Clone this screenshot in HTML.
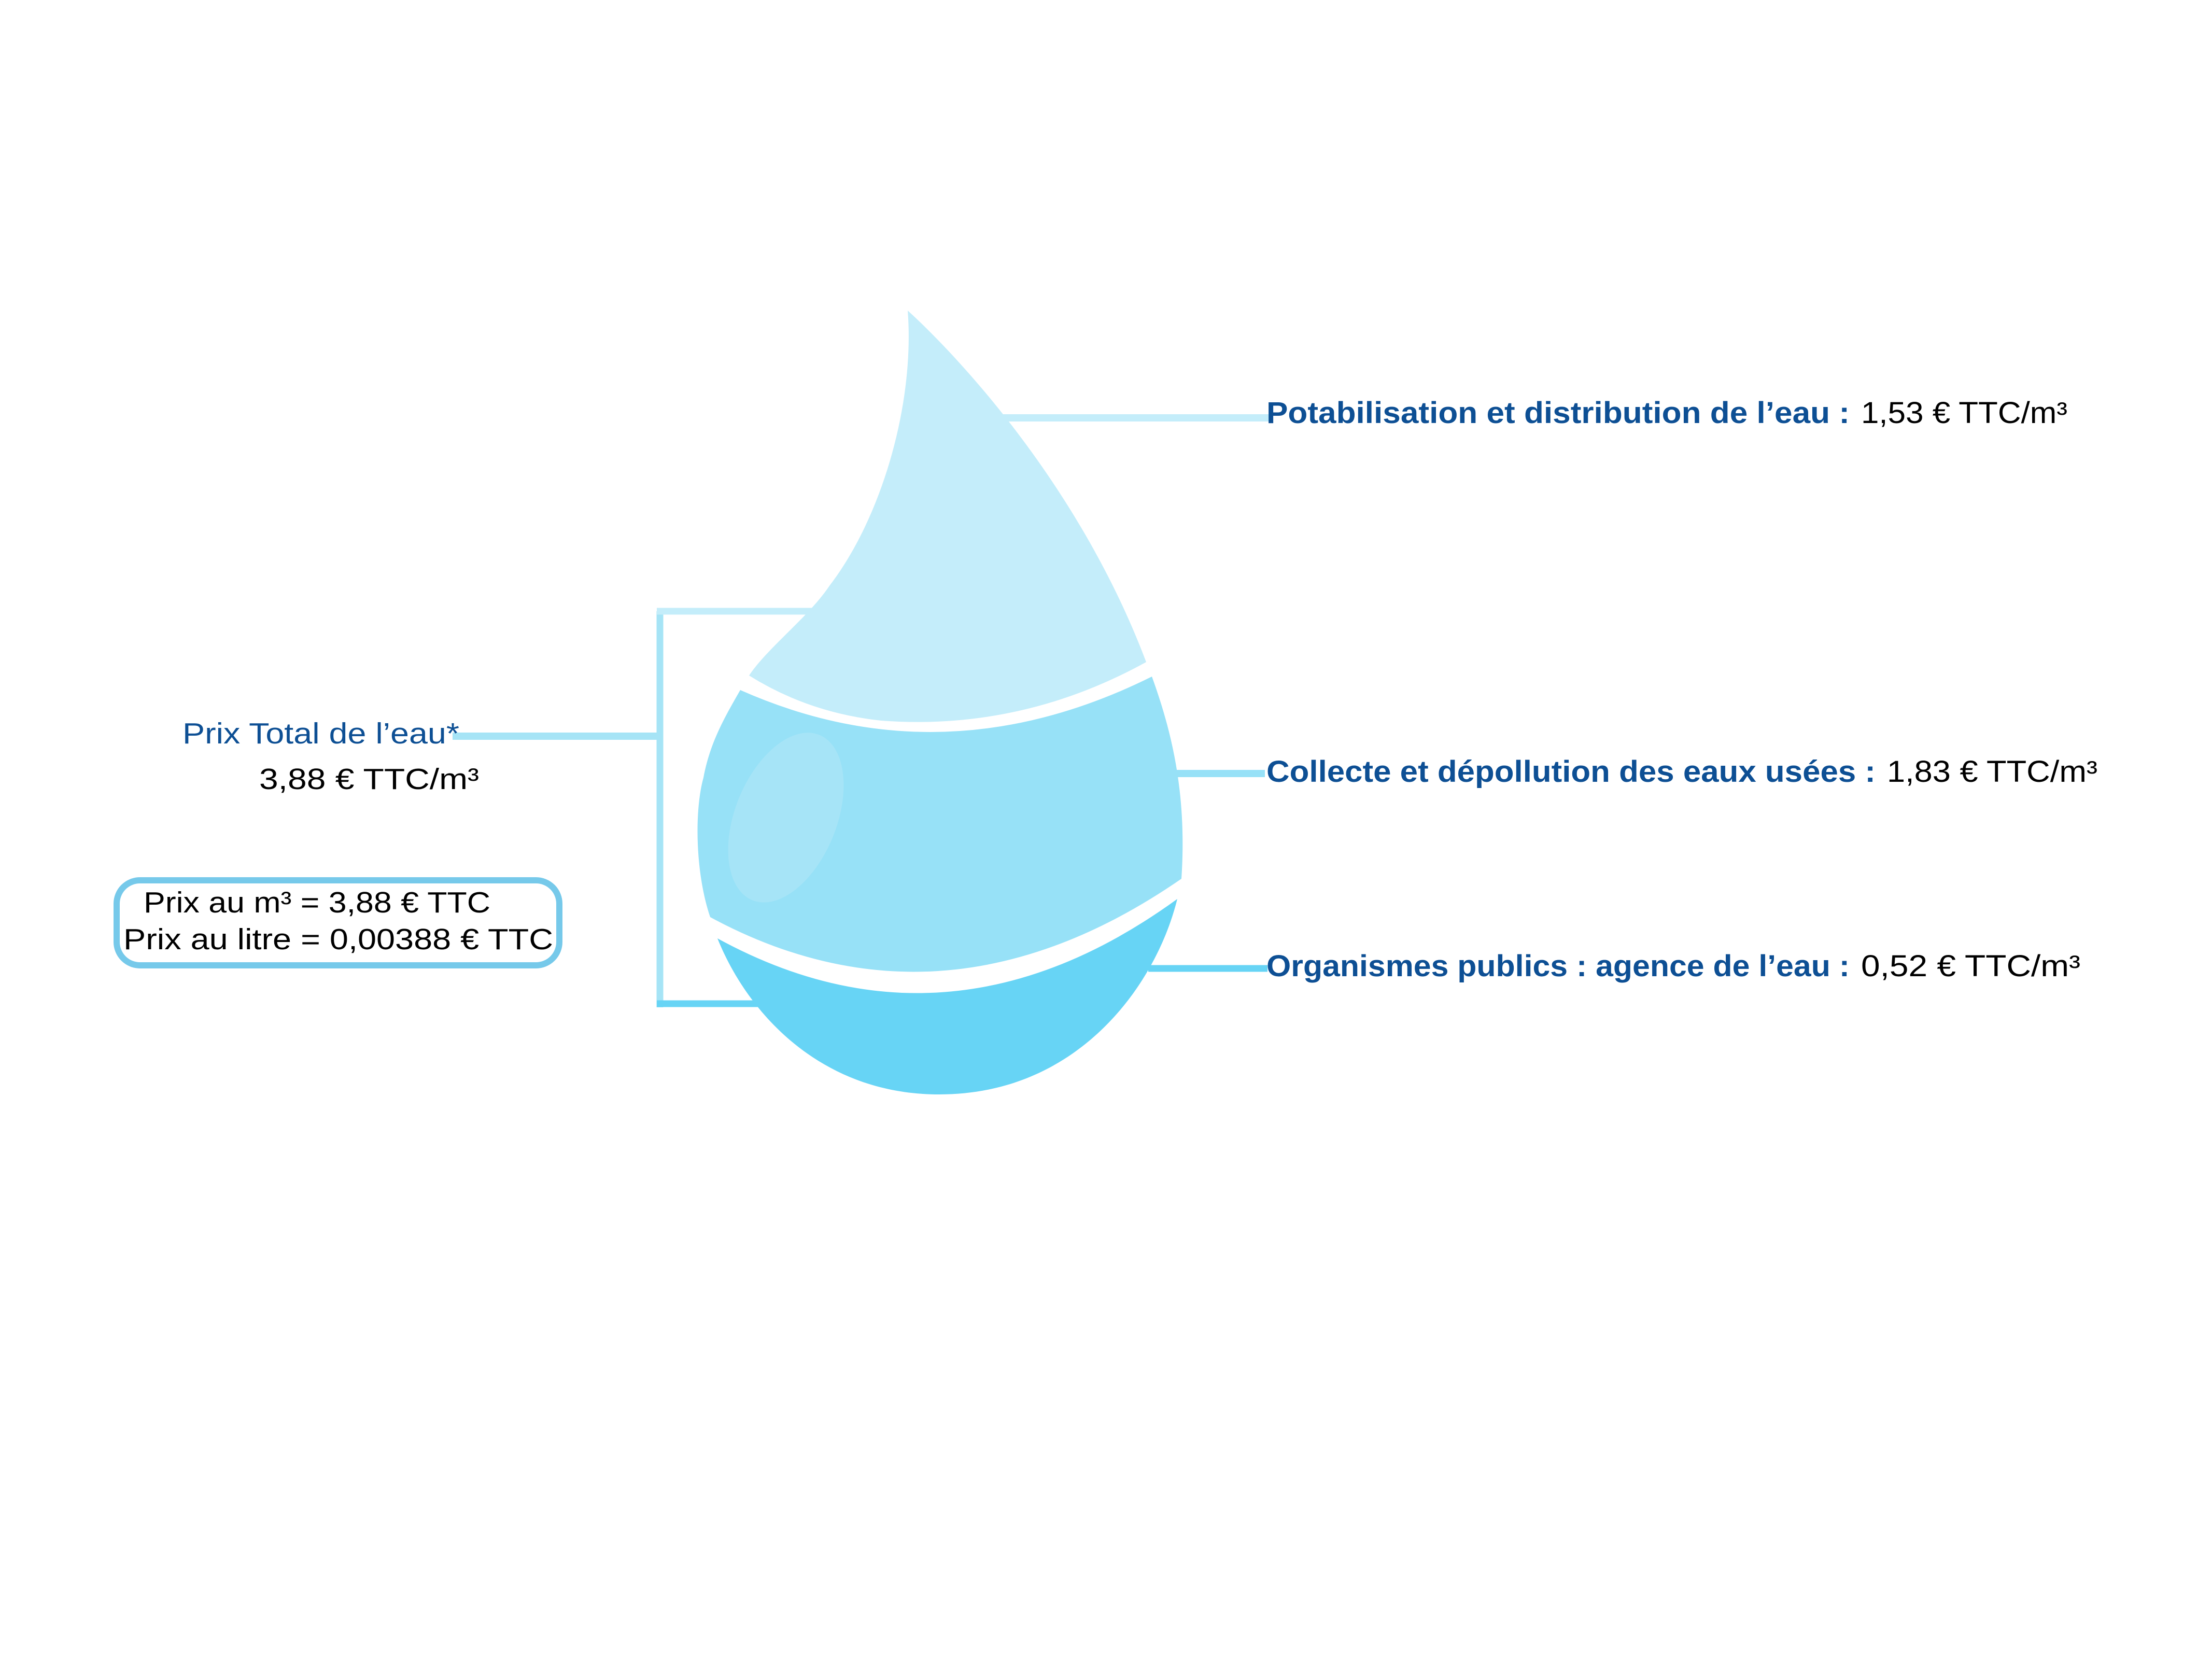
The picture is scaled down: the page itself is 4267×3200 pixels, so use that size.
<!DOCTYPE html>
<html><head><meta charset="utf-8"><style>html,body{margin:0;padding:0;background:#fff}svg{display:block}</style></head>
<body>
<svg width="4267" height="3200" viewBox="0 0 4267 3200" xmlns="http://www.w3.org/2000/svg">
<rect width="4267" height="3200" fill="#fff"/>
<!-- connector lines -->
<line x1="873" y1="1420" x2="1274" y2="1420" stroke="#a6e4f6" stroke-width="14"/>
<line x1="1273" y1="1179" x2="1273" y2="1943" stroke="#a6e4f6" stroke-width="13"/>
<line x1="1267" y1="1179" x2="1570" y2="1179" stroke="#c4edfa" stroke-width="13"/>
<line x1="1267" y1="1936" x2="1470" y2="1936" stroke="#67d4f5" stroke-width="13"/>
<line x1="1920" y1="806" x2="2450" y2="806" stroke="#c4edfa" stroke-width="14"/>
<line x1="2260" y1="1492" x2="2440" y2="1492" stroke="#97e1f7" stroke-width="14"/>
<line x1="2215" y1="1868" x2="2445" y2="1868" stroke="#67d4f5" stroke-width="13"/>
<!-- drop top -->
<path d="M1751,599 C1840,680 2080,930 2211,1277 Q1970,1410 1700,1390 Q1560,1375 1445,1303 C1480,1250 1560,1190 1600,1130 C1700,1000 1765,780 1751,599 Z" fill="#c4edfa"/>
<!-- middle band -->
<path d="M1428,1331 Q1820,1505 2222,1305 C2260,1410 2290,1530 2279,1695 Q1820,2012 1370,1769 C1340,1680 1340,1560 1357,1500 C1370,1430 1400,1380 1428,1331 Z" fill="#97e1f7"/>
<ellipse cx="1516" cy="1577" rx="98" ry="172" transform="rotate(22 1516 1577)" fill="#a6e4f7"/>
<!-- bottom band -->
<path d="M1384,1810 Q1830,2054 2271,1734 C2230,1900 2080,2111 1812,2111 C1580,2111 1440,1950 1384,1810 Z" fill="#67d4f5"/>
<g font-family="Liberation Sans, sans-serif">
<text x="352" y="1434" font-size="57" fill="#0d4f94" textLength="534" lengthAdjust="spacingAndGlyphs">Prix Total de l’eau*</text>
<text x="500" y="1522" font-size="57" fill="#000" textLength="424" lengthAdjust="spacingAndGlyphs">3,88 € TTC/m³</text>
<rect x="225" y="1698" width="854" height="164" rx="45" fill="#fff" stroke="#76c9ea" stroke-width="12"/>
<text x="277" y="1760" font-size="57" fill="#000" textLength="669" lengthAdjust="spacingAndGlyphs">Prix au m³ = 3,88 € TTC</text>
<text x="238" y="1831" font-size="57" fill="#000" textLength="829" lengthAdjust="spacingAndGlyphs">Prix au litre = 0,00388 € TTC</text>
<text x="2443" y="816" font-size="58" font-weight="bold" fill="#0d4f94" textLength="1125" lengthAdjust="spacingAndGlyphs">Potabilisation et distribution de l’eau :</text>
<text x="3590" y="816" font-size="58" fill="#000" textLength="398" lengthAdjust="spacingAndGlyphs">1,53 € TTC/m³</text>
<text x="2443" y="1508" font-size="58" font-weight="bold" fill="#0d4f94" textLength="1175" lengthAdjust="spacingAndGlyphs">Collecte et dépollution des eaux usées :</text>
<text x="3640" y="1508" font-size="58" fill="#000" textLength="406" lengthAdjust="spacingAndGlyphs">1,83 € TTC/m³</text>
<text x="2443" y="1883" font-size="58" font-weight="bold" fill="#0d4f94" textLength="1125" lengthAdjust="spacingAndGlyphs">Organismes publics : agence de l’eau :</text>
<text x="3590" y="1883" font-size="58" fill="#000" textLength="423" lengthAdjust="spacingAndGlyphs">0,52 € TTC/m³</text>
</g>
</svg>
</body></html>
